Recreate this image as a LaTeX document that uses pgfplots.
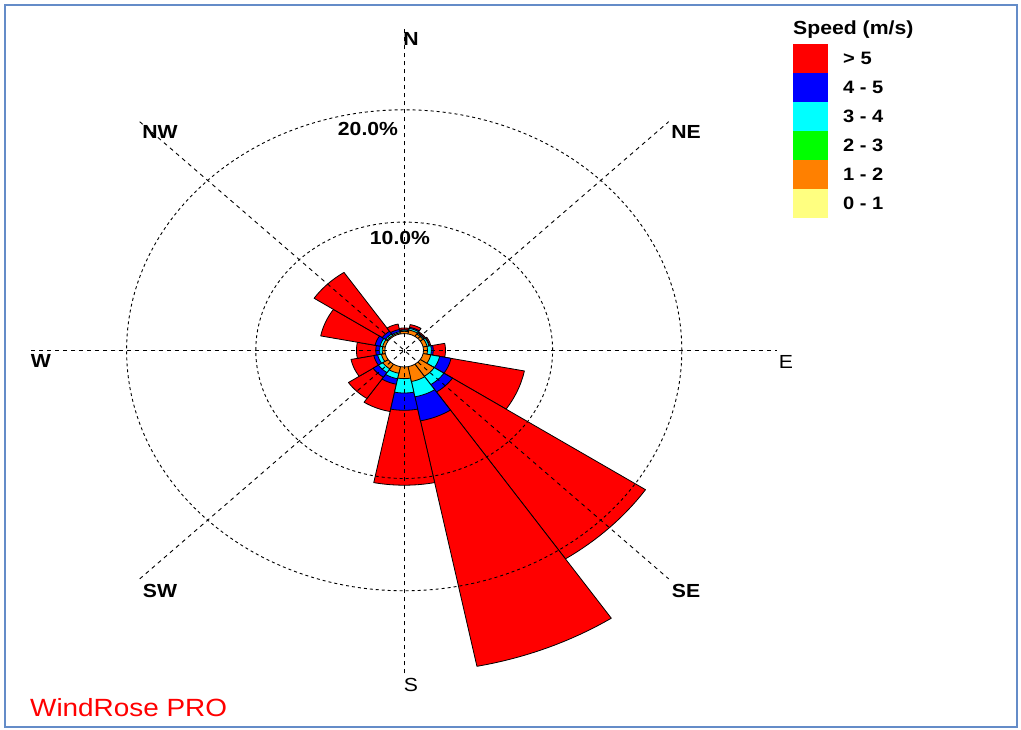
\documentclass[border=0pt]{standalone}
\usepackage{fontspec}
\setmainfont{Liberation Sans}[FakeStretch=1.12]
\usepackage{pgfplots}
\usepackage{pgfplotstable}
\pgfplotsset{compat=1.18}
\definecolor{bin0}{RGB}{255,255,128}
\definecolor{bin1}{RGB}{255,128,0}
\definecolor{bin2}{RGB}{0,255,0}
\definecolor{bin3}{RGB}{0,255,255}
\definecolor{bin4}{RGB}{0,0,255}
\definecolor{bin5}{RGB}{255,0,0}
\definecolor{framec}{RGB}{100,140,200}
% percent of time per direction (N=0, NNE=1, ..., NNW=15) and speed class
\pgfplotstableread{
d  b0 b1   b2 b3   b4   b5
0  0  0.20 0  0.10 0.05 0.15
1  0  0.35 0  0.15 0.10 0.25
2  0  0.25 0  0.10 0.05 0.10
3  0  0.30 0  0.15 0.05 0.10
4  0  0.30 0  0.30 0.15 0.95
5  0  0.60 0  0.70 0.90 5.80
6  0  1.30 0  0.90 0.80 18.00
7  0  1.35 0  1.40 2.20 22.45
8  0  1.04 0  1.29 1.55 6.72
9  0  0.60 0  0.50 0.50 2.50
10 0  0.50 0  0.40 0.50 2.30
11 0  0.30 0  0.30 0.30 1.80
12 0  0.20 0  0.20 0.30 1.50
13 0  0.20 0  0.20 0.40 4.30
14 0  0.10 0  0.15 0.30 6.35
15 0  0.10 0  0.10 0.20 0.50
}\wind
\def\rz{1.5}
\pgfplotstablecreatecol[create col/expr={\rz+\thisrow{b0}}]{c0}\wind
\pgfplotstablecreatecol[create col/expr={\thisrow{c0}+\thisrow{b1}}]{c1}\wind
\pgfplotstablecreatecol[create col/expr={\thisrow{c1}+\thisrow{b2}}]{c2}\wind
\pgfplotstablecreatecol[create col/expr={\thisrow{c2}+\thisrow{b3}}]{c3}\wind
\pgfplotstablecreatecol[create col/expr={\thisrow{c3}+\thisrow{b4}}]{c4}\wind
\pgfplotstablecreatecol[create col/expr={\thisrow{c4}+\thisrow{b5}}]{c5}\wind
% sector outline template: f = 0 centre, 1 on the arc; t = angle step
\pgfplotstableread{
f t
0 0
1 -8
1 -7
1 -6
1 -5
1 -4
1 -3
1 -2
1 -1
1 0
1 1
1 2
1 3
1 4
1 5
1 6
1 7
1 8
0 0
}\sect
\begin{document}
\begin{tikzpicture}[x=1bp,y=1bp]
\begin{axis}[
  x=12.9bp, y=11.15bp,
  xmin=-31, xmax=31, ymin=-31, ymax=31,
  axis lines=none, clip=false,
]
\pgfplotsforeachungrouped \k in {5,4,3,2,1,0}{%
  \pgfplotsforeachungrouped \i in {0,...,15}{%
    \pgfplotstablegetelem{\i}{b\k}\of\wind
    \ifdim\pgfplotsretval pt>0pt
      \pgfplotstablegetelem{\i}{c\k}\of\wind
      \let\R\pgfplotsretval
      \edef\tmp{\noexpand\addplot[fill=bin\k, draw=black, line width=0.8bp, line join=round]
        table[x expr={\noexpand\thisrow{f}*\R*sin(22.5*\i+1.40625*\noexpand\thisrow{t})},
              y expr={\noexpand\thisrow{f}*\R*cos(22.5*\i+1.40625*\noexpand\thisrow{t})}]
        {\noexpand\sect};}%
      \tmp
    \fi
  }%
}
\coordinate (c) at (axis cs:0,0);
\end{axis}
\pgfresetboundingbox
\begin{scope}[shift={(c)}, shift={(-404.2,-379.7)}]
\useasboundingbox (0,0) rectangle (1021,730);
\draw[framec, line width=2bp] (5,3) rectangle (1017,725);
% calm hole
\fill[white] (404.2,379.7) ellipse [x radius=19.3bp, y radius=16.7bp];
\draw[black, line width=0.8bp] (404.2,379.7) ellipse [x radius=19.3bp, y radius=16.7bp];
% grid
\begin{scope}[line width=0.9bp, dash pattern=on 3bp off 3bp]
\draw (404.2,379.7) ellipse [x radius=148.4bp, y radius=128.2bp];
\draw (404.2,379.7) ellipse [x radius=277.6bp, y radius=240.5bp];
\end{scope}
\begin{scope}[line width=0.9bp, dash pattern=on 4bp off 4bp, shift={(404.2,379.7)}]
\draw (0,-323) -- (0,323);
\draw (-373,0) -- (373,0);
\draw (-264.5,-228.6) -- (264.5,228.6);
\draw (-264.5,228.6) -- (264.5,-228.6);
\end{scope}
% labels
\begin{scope}[font=\fontsize{19}{22}\selectfont\bfseries]
\node[anchor=base] at (411,730-46) {N};
\node[anchor=base, font=\fontsize{19}{22}\selectfont] at (411,730-692) {S};
\node[anchor=base] at (41,730-368) {W};
\node[anchor=base, font=\fontsize{19}{22}\selectfont] at (786,730-369) {E};
\node[anchor=base] at (160,730-139) {NW};
\node[anchor=base] at (686,730-139) {NE};
\node[anchor=base] at (160,730-598) {SW};
\node[anchor=base] at (686,730-598) {SE};
\node[anchor=base] at (368,730-136) {20.0\%};
\node[anchor=base] at (400,730-245) {10.0\%};
\end{scope}
% legend
\node[anchor=base west, font=\fontsize{19}{21}\selectfont\bfseries, inner sep=0pt] at (793,730-35) {Speed (m/s)};
\foreach \c/\t [count=\n from 0] in {bin5/{> 5}, bin4/{4 - 5}, bin3/{3 - 4}, bin2/{2 - 3}, bin1/{1 - 2}, bin0/{0 - 1}}{
  \fill[\c] (793,730-44-29*\n) rectangle (828,730-73-29*\n);
  \node[anchor=base west, font=\fontsize{18}{20}\selectfont\bfseries, inner sep=0pt] at (843,730-65-29*\n) {\t};
}
\node[anchor=base west, text=red, font=\fontsize{25}{28}\selectfont, inner sep=0pt] at (30,730-717) {WindRose PRO};
\end{scope}
\end{tikzpicture}
\end{document}
